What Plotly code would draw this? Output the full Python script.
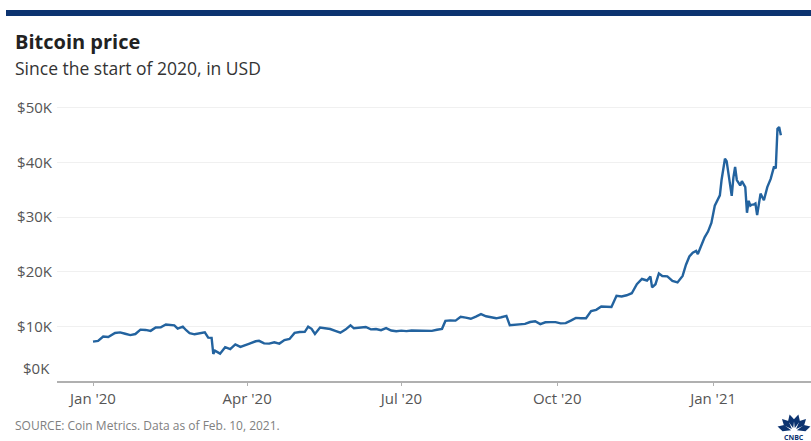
import plotly.graph_objects as go
import math

# ---- data ----
dates = [
 "2020-01-01","2020-01-04","2020-01-07","2020-01-10","2020-01-14","2020-01-17","2020-01-20","2020-01-23","2020-01-26","2020-01-29",
 "2020-02-01","2020-02-04","2020-02-07","2020-02-10","2020-02-13","2020-02-15","2020-02-18","2020-02-20","2020-02-23","2020-02-25","2020-02-27",
 "2020-03-01","2020-03-04","2020-03-07","2020-03-09","2020-03-11","2020-03-12","2020-03-13","2020-03-16","2020-03-19","2020-03-22","2020-03-25","2020-03-28","2020-03-30",
 "2020-04-02","2020-04-06","2020-04-08","2020-04-11","2020-04-14","2020-04-17","2020-04-20","2020-04-23","2020-04-26","2020-04-29",
 "2020-05-02","2020-05-05","2020-05-07","2020-05-09","2020-05-11","2020-05-14","2020-05-17","2020-05-20","2020-05-23","2020-05-26","2020-05-29",
 "2020-06-01","2020-06-03","2020-06-07","2020-06-10","2020-06-13","2020-06-16","2020-06-19","2020-06-22","2020-06-25","2020-06-28",
 "2020-07-01","2020-07-04","2020-07-07","2020-07-10","2020-07-13","2020-07-16","2020-07-19","2020-07-22","2020-07-25","2020-07-27","2020-07-30",
 "2020-08-02","2020-08-05","2020-08-08","2020-08-11","2020-08-14","2020-08-17","2020-08-20","2020-08-23","2020-08-26","2020-08-29",
 "2020-09-01","2020-09-03","2020-09-06","2020-09-09","2020-09-12","2020-09-15","2020-09-18","2020-09-21","2020-09-24","2020-09-27","2020-09-30",
 "2020-10-03","2020-10-06","2020-10-09","2020-10-12","2020-10-15","2020-10-18","2020-10-21","2020-10-24","2020-10-27","2020-10-30",
 "2020-11-02","2020-11-05","2020-11-08","2020-11-11","2020-11-14","2020-11-17","2020-11-20","2020-11-23","2020-11-25","2020-11-26","2020-11-28","2020-11-30",
 "2020-12-02","2020-12-05","2020-12-08","2020-12-11","2020-12-14","2020-12-16","2020-12-18","2020-12-20","2020-12-22","2020-12-23","2020-12-25","2020-12-27","2020-12-29","2020-12-31",
 "2021-01-02","2021-01-03","2021-01-05","2021-01-06","2021-01-07","2021-01-08","2021-01-09","2021-01-10","2021-01-11","2021-01-12","2021-01-13","2021-01-14",
 "2021-01-15","2021-01-16","2021-01-17","2021-01-18","2021-01-19","2021-01-20","2021-01-21","2021-01-22","2021-01-23","2021-01-24","2021-01-25","2021-01-26","2021-01-27",
 "2021-01-29","2021-01-31","2021-02-02","2021-02-04","2021-02-06","2021-02-07","2021-02-08","2021-02-09","2021-02-10",
]
prices = [
 7200,7350,8150,8050,8800,8900,8650,8400,8600,9400,
 9350,9180,9800,9850,10350,10250,10200,9600,9950,9300,8780,
 8550,8760,8900,7950,7900,4970,5560,5010,6190,5830,6700,6250,6430,
 6800,7270,7350,6880,6850,7100,6850,7500,7700,8800,
 8980,9000,9950,9550,8600,9780,9680,9520,9180,8840,9420,
 10200,9650,9750,9890,9460,9520,9310,9680,9250,9120,
 9230,9130,9250,9240,9250,9130,9170,9380,9550,11000,11100,
 11050,11750,11600,11400,11800,12250,11850,11650,11480,11680,
 11930,10200,10280,10340,10450,10800,10950,10420,10750,10780,10780,
 10550,10600,11060,11550,11500,11500,12820,13030,13650,13560,
 13550,15590,15480,15700,16070,17730,18680,18400,19150,17150,17720,19700,
 19220,19150,18320,18050,19250,21300,22800,23480,23820,23240,24700,26300,27360,28950,
 32100,32800,34000,36800,39300,40700,40250,38300,35500,33900,37300,39200,
 36800,36200,35800,36600,36000,35500,30800,33000,32100,32300,32300,32500,30400,
 34300,33100,35500,37000,39300,38900,46200,46500,45000,
]
y_tickvals = [10000, 20000, 30000, 40000, 50000]
y_ticktext = ["$10K", "$20K", "$30K", "$40K", "$50K"]
x_tickvals = ["2020-01-01", "2020-04-01", "2020-07-01", "2020-10-01", "2021-01-01"]
x_ticktext = ["Jan '20", "Apr '20", "Jul '20", "Oct '20", "Jan '21"]

W, H = 811, 441
L, R, T, B = 57, 0, 97, 60
PW, PH = W - L - R, H - T - B

def px(xp):
    return (xp - L) / PW

def py(yp):
    return (H - B - yp) / PH

NAVY = "#0c3370"
FONT = "Open Sans"
TICK = 15

fig = go.Figure()
fig.add_trace(go.Scatter(
    x=dates, y=prices, mode="lines",
    line=dict(color="#23639f", width=2.4, shape="linear"),
    hoverinfo="skip", showlegend=False,
))

fig.update_layout(
    width=W, height=H,
    margin=dict(l=L, r=R, t=T, b=B, pad=0),
    paper_bgcolor="white", plot_bgcolor="white",
    font=dict(family=FONT, color="#555555", size=TICK),
    xaxis=dict(
        range=["2019-12-10 18:00", "2021-02-27 19:00"],
        tickvals=x_tickvals, ticktext=x_ticktext,
        showgrid=False, zeroline=False,
        showline=True, linecolor="#b0b0b0", linewidth=1.5,
        ticks="outside", ticklen=3, tickcolor="#b0b0b0", tickwidth=1,
        ticklabelstandoff=0,
        tickfont=dict(size=TICK, color="#555555", family=FONT),
        fixedrange=True,
    ),
    yaxis=dict(
        range=[0, 52000],
        tickvals=y_tickvals, ticktext=y_ticktext,
        showgrid=True, gridcolor="#f0f0f0", gridwidth=1,
        zeroline=False, showline=False, ticks="",
        ticklabelstandoff=4,
        tickfont=dict(size=TICK, color="#555555", family=FONT),
        fixedrange=True,
    ),
)

annotations = [
    dict(text="<b>Bitcoin price</b>", x=px(13), y=py(42), xref="paper", yref="paper",
         xanchor="left", yanchor="middle", showarrow=False,
         font=dict(size=20, color="#222222", family=FONT)),
    dict(text="Since the start of 2020, in USD", x=px(13), y=py(68), xref="paper", yref="paper",
         xanchor="left", yanchor="middle", showarrow=False,
         font=dict(size=17.5, color="#333333", family=FONT)),
    dict(text="$0K", x=px(52), y=py(368), xref="paper", yref="paper",
         xanchor="right", yanchor="middle", showarrow=False,
         font=dict(size=TICK, color="#555555", family=FONT)),
    dict(text="SOURCE: Coin Metrics. Data as of Feb. 10, 2021.", x=px(13), y=py(425), xref="paper", yref="paper",
         xanchor="left", yanchor="middle", showarrow=False,
         font=dict(size=12, color="#808080", family=FONT)),
    dict(text="<b>CNBC</b>", x=px(794), y=py(437), xref="paper", yref="paper",
         xanchor="center", yanchor="middle", showarrow=False,
         font=dict(size=7, color=NAVY, family=FONT)),
]

shapes = [
    dict(type="rect", xref="paper", yref="paper", x0=px(6), x1=px(811), y0=py(10), y1=py(16),
         fillcolor=NAVY, line=dict(width=0), layer="above"),
]

# simplified peacock logo: six feathers fanning from a base point
cx, cy = 794, 431
for i in range(6):
    ang = math.radians(180 - (i + 0.5) * 180 / 6)
    r1, r2, hw = 3, 17, 3.2
    tipx, tipy = cx + r2 * math.cos(ang), cy - r2 * math.sin(ang)
    bx, by = cx + r1 * math.cos(ang), cy - r1 * math.sin(ang)
    nx, ny = -math.sin(ang), -math.cos(ang)
    pts = [(bx, by), (cx + 11 * math.cos(ang) + hw * nx, cy - 11 * math.sin(ang) + hw * ny),
           (tipx, tipy), (cx + 11 * math.cos(ang) - hw * nx, cy - 11 * math.sin(ang) - hw * ny)]
    path = "M " + " L ".join(f"{px(a):.5f},{py(b):.5f}" for a, b in pts) + " Z"
    shapes.append(dict(type="path", xref="paper", yref="paper", path=path,
                       fillcolor=NAVY, line=dict(width=0), layer="above"))

fig.update_layout(annotations=annotations, shapes=shapes)
fig.write_html("out.html", include_plotlyjs=True, config={"displayModeBar": False})
